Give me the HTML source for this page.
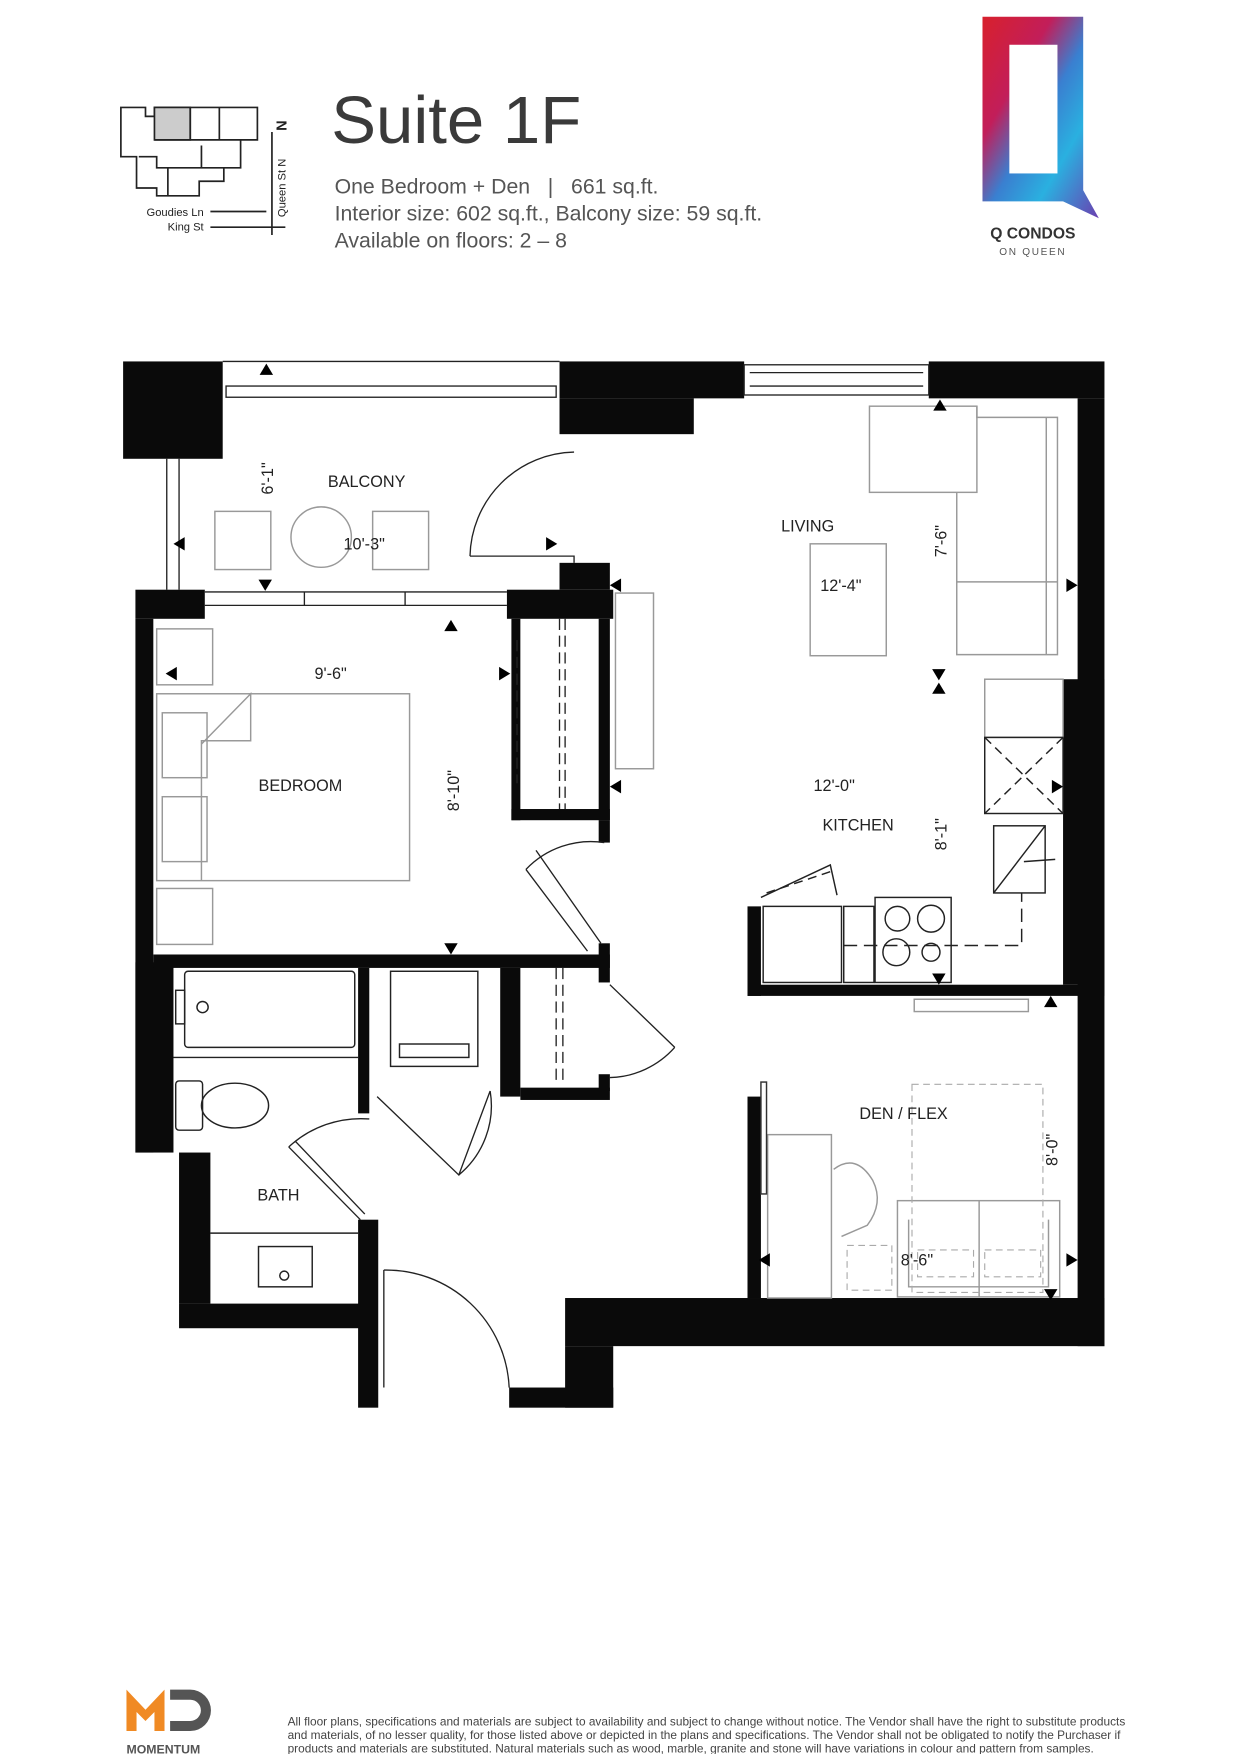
<!DOCTYPE html>
<html><head><meta charset="utf-8"><style>
html,body{margin:0;padding:0;background:#fff;}
svg{display:block;}
text{font-family:"Liberation Sans",sans-serif;}
</style></head><body>
<svg width="1241" height="1754" viewBox="0 0 1109 1567.5" xmlns="http://www.w3.org/2000/svg">
<defs>
<linearGradient id="g1" x1="0" y1="0" x2="1" y2="1">
<stop offset="0" stop-color="#d8202c"/><stop offset="0.3" stop-color="#c21e5a"/><stop offset="0.5" stop-color="#3a7fd0"/><stop offset="0.7" stop-color="#2ab0e0"/><stop offset="1" stop-color="#6b3fb0"/>
</linearGradient>
</defs>
<!-- key plan -->
<g fill="none" stroke="#222" stroke-width="1.5">
<path d="M108 96 H130 V104 H138 V96 H230 V125 H215 V150 H200 V162 H178 V175 H140 V168 H122 V140 H108 Z"/>
<rect x="138" y="96" width="32" height="29" fill="#ccc"/>
<path d="M170 96 V125 M196 96 V125 M138 125 H215 M124 140 H140 V150 H200 M150 150 V175 M180 130 V150"/>
<path d="M188 189 H238 M188 203 H255 M243 118 V210"/>
</g>
<text x="244" y="183" font-size="10" fill="#222" transform="rotate(-90 255 183)">Queen St N</text>
<text x="245" y="114" font-size="13" font-weight="bold" fill="#222" transform="rotate(-90 252 110)">N</text>
<text x="182" y="193" font-size="10" fill="#222" text-anchor="end">Goudies Ln</text>
<text x="182" y="206" font-size="10" fill="#222" text-anchor="end">King St</text>
<!-- titles -->
<text x="296" y="128" font-size="60" fill="#3a3a3a">Suite 1F</text>
<text x="299" y="173" font-size="19" fill="#555">One Bedroom + Den &#160;&#160;| &#160;&#160;661 sq.ft.</text>
<text x="299" y="197" font-size="19" fill="#555">Interior size: 602 sq.ft., Balcony size: 59 sq.ft.</text>
<text x="299" y="221" font-size="19" fill="#555">Available on floors: 2 – 8</text>
<!-- Q logo -->
<path d="M878 15 H968 V170 L982 195 L950 180 H878 Z" fill="url(#g1)"/>
<rect x="902" y="40" width="43" height="115" fill="#fff"/>
<text x="923" y="213" font-size="14" font-weight="bold" fill="#333" text-anchor="middle">Q CONDOS</text>
<text x="923" y="228" font-size="9" fill="#555" text-anchor="middle" letter-spacing="1.5">ON QUEEN</text>

<!-- walls -->
<g fill="#0a0a0a">
<rect x="110" y="323" width="89" height="87"/>
<rect x="500" y="323" width="165" height="33"/>
<rect x="500" y="356" width="120" height="32"/>
<rect x="830" y="323" width="157" height="33"/>
<rect x="963" y="356" width="24" height="847"/>
<rect x="950" y="607" width="37" height="273"/>
<rect x="505" y="1160" width="482" height="43"/>
<rect x="505" y="1203" width="43" height="55"/>
<rect x="455" y="1240" width="93" height="18"/>
<rect x="121" y="527" width="62" height="26"/>
<rect x="121" y="553" width="16" height="477"/>
<rect x="121" y="860" width="34" height="170"/>
<rect x="160" y="1030" width="28" height="135"/>
<rect x="160" y="1165" width="170" height="22"/>
<rect x="137" y="853" width="408" height="12"/>
<rect x="320" y="865" width="10" height="130"/>
<rect x="447" y="865" width="18" height="115"/>
<rect x="465" y="972" width="80" height="11"/>
<rect x="453" y="527" width="95" height="26"/>
<rect x="500" y="503" width="45" height="24"/>
<rect x="457" y="553" width="8" height="180"/>
<rect x="457" y="723" width="88" height="10"/>
<rect x="535" y="553" width="10" height="180"/>
<rect x="320" y="1090" width="18" height="168"/>
<rect x="668" y="880" width="319" height="10"/>
<rect x="668" y="810" width="12" height="80"/>
<rect x="668" y="980" width="12" height="180"/>
<rect x="535" y="733" width="10" height="20"/>
<rect x="535" y="843" width="10" height="35"/>
<rect x="535" y="960" width="10" height="15"/>
</g>
<!-- balcony -->
<g fill="none" stroke="#222" stroke-width="1.2">
<path d="M199 323 H500"/>
<rect x="202" y="345" width="295" height="10"/>
<path d="M149 410 V527 M160 410 V527"/>
<rect x="665" y="326" width="165" height="27"/>
<path d="M670 333 H825 M670 345 H825"/>
<path d="M183 529 H453 M183 541 H453 M272 529 V541 M362 529 V541"/>
<path d="M420 497 A95 95 0 0 1 513 404 M420 497 H513 V503" />
<path d="M462 572 V700 M500 553 V723 M505 553 V723" stroke-dasharray="10 5"/>
<path d="M479 760 L537 843 M470 777 L525 850"/>
<path d="M470 777 A80 80 0 0 1 540 753"/>
<path d="M545 880 L603 936 M545 963 A80 80 0 0 0 603 936"/>
<path d="M337 980 L410 1050 L438 975 M410 1050 A80 80 0 0 0 438 975"/>
<path d="M258 1025 L322 1090 M264 1020 L326 1085 M258 1025 A95 95 0 0 1 330 1000"/>
<path d="M343 1135 V1240 M343 1135 A110 110 0 0 1 455 1240"/>
<path d="M497 865 V970 M503 865 V970" stroke-dasharray="10 5"/>
</g>
<!-- furniture gray -->
<g fill="none" stroke="#999" stroke-width="1.3">
<rect x="192" y="457" width="50" height="52"/><circle cx="287" cy="480" r="27"/><rect x="333" y="457" width="50" height="52"/>
<rect x="140" y="562" width="50" height="50"/><rect x="140" y="794" width="50" height="50"/>
<rect x="140" y="620" width="226" height="167"/><rect x="145" y="637" width="40" height="58"/><rect x="145" y="712" width="40" height="58"/>
<path d="M180 665 L224 620 V662 H180 V787"/>
<rect x="777" y="363" width="96" height="77"/><path d="M873 363 V373 H945 V585 H855 V440 M855 520 H945 M935 373 V585"/>
<rect x="724" y="486" width="68" height="100"/>
<rect x="550" y="530" width="34" height="157"/>
<rect x="880" y="607" width="70" height="52"/>
<rect x="817" y="893" width="102" height="11"/>
<rect x="686" y="1014" width="57" height="146"/>
<rect x="802" y="1073" width="145" height="86"/><path d="M875 1073 V1159 M812 1090 V1150 H937 V1090"/>
<path d="M745 1045 Q765 1030 780 1055 Q790 1075 775 1095 L752 1105"/>
<rect x="680" y="967" width="5" height="100" stroke="#333"/>
</g>
<g fill="none" stroke="#aaa" stroke-width="1" stroke-dasharray="6 4">
<rect x="815" y="969" width="117" height="186"/>
<rect x="757" y="1113" width="40" height="40"/><rect x="820" y="1117" width="50" height="24"/><rect x="880" y="1117" width="50" height="24"/>
</g>
<!-- kitchen -->
<g fill="none" stroke="#222" stroke-width="1.3">
<rect x="682" y="810" width="70" height="68"/><rect x="754" y="810" width="27" height="68"/>
<rect x="782" y="802" width="68" height="76"/>
<circle cx="802" cy="821" r="11"/><circle cx="832" cy="821" r="12"/><circle cx="801" cy="851" r="12"/><circle cx="832" cy="851" r="8"/>
<path d="M680 802 L742 773 L748 800"/>
<rect x="880" y="659" width="70" height="68"/><path d="M880 659 L950 727 M950 659 L880 727" stroke-dasharray="8 5"/>
<rect x="888" y="738" width="46" height="60"/><path d="M888 798 L934 738 M915 770 L943 768"/>
<path d="M754 845 H913 V798" stroke-dasharray="12 6"/>
<path d="M685 798 L745 778" stroke-dasharray="8 5"/>
</g>
<!-- bath -->
<g fill="none" stroke="#222" stroke-width="1.3">
<rect x="165" y="868" width="152" height="68" rx="3"/><path d="M155 945 H320"/>
<circle cx="181" cy="900" r="5"/><rect x="157" y="885" width="8" height="30"/>
<rect x="157" y="966" width="24" height="44" rx="3"/><ellipse cx="210" cy="988" rx="30" ry="20"/>
<path d="M188 1102 H320"/>
<rect x="231" y="1114" width="48" height="36"/><circle cx="254" cy="1140" r="4"/>
<rect x="349" y="868" width="78" height="85"/><rect x="357" y="933" width="62" height="12"/>
</g>
<!-- arrows -->
<g fill="#000">
<path d="M232 335 l6 -10 l6 10z"/><path d="M231 518 l6 10 l6 -10z"/>
<path d="M397 564 l6 -10 l6 10z"/><path d="M397 843 l6 10 l6 -10z"/>
<path d="M148 602 l10 -6 v12z"/><path d="M456 602 l-10 -6 v12z"/>
<path d="M155 486 l10 -6 v12z"/><path d="M498 486 l-10 -6 v12z"/>
<path d="M545 523 l10 -6 v12z"/><path d="M545 703 l10 -6 v12z"/>
<path d="M834 367 l6 -10 l6 10z"/><path d="M963 523 l-10 -6 v12z"/>
<path d="M833 598 l6 10 l6 -10 z M833 620 l6 -10 l6 10z"/>
<path d="M950 703 l-10 -6 v12z"/>
<path d="M833 870 l6 10 l6 -10z"/><path d="M933 900 l6 -10 l6 10z"/>
<path d="M678 1126 l10 -6 v12z"/><path d="M963 1126 l-10 -6 v12z"/>
<path d="M933 1152 l6 10 l6 -10z"/>
</g>
<!-- labels -->
<g font-size="14.5" fill="#222">
<text x="293" y="435">BALCONY</text>
<text x="307" y="491">10'-3"</text>
<text x="281" y="607">9'-6"</text>
<text x="231" y="707">BEDROOM</text>
<text x="698" y="475">LIVING</text>
<text x="733" y="528">12'-4"</text>
<text x="727" y="707">12'-0"</text>
<text x="735" y="742">KITCHEN</text>
<text x="768" y="1000">DEN / FLEX</text>
<text x="805" y="1131">8'-6"</text>
<text x="230" y="1073">BATH</text>
<text transform="translate(244 442) rotate(-90)">6'-1"</text>
<text transform="translate(410 725) rotate(-90)">8'-10"</text>
<text transform="translate(846 498) rotate(-90)">7'-6"</text>
<text transform="translate(846 760) rotate(-90)">8'-1"</text>
<text transform="translate(945 1042) rotate(-90)">8'-0"</text>
</g>
<!-- footer -->
<path d="M113 1547 V1510 L130 1528 L147 1510 V1547 H138 V1530 L130 1538 L122 1530 V1547Z" fill="#f08a24"/>
<path d="M152 1510 H170 A18 18 0 0 1 170 1547 H152 V1538 H170 A9 9 0 0 0 170 1519 H152Z" fill="#555"/>
<text x="113" y="1567" font-size="11" font-weight="bold" fill="#555">MOMENTUM</text>
<g font-size="10.6" fill="#444">
<text x="257" y="1542">All floor plans, specifications and materials are subject to availability and subject to change without notice.  The Vendor shall have the right to substitute products</text>
<text x="257" y="1554">and materials, of no lesser quality, for those listed above or depicted in the plans and specifications. The Vendor shall not be obligated to notify the Purchaser if</text>
<text x="257" y="1566">products and materials are substituted. Natural materials such as wood, marble, granite and stone will have variations in colour and pattern from samples.</text>
</g>
</svg>
</body></html>
